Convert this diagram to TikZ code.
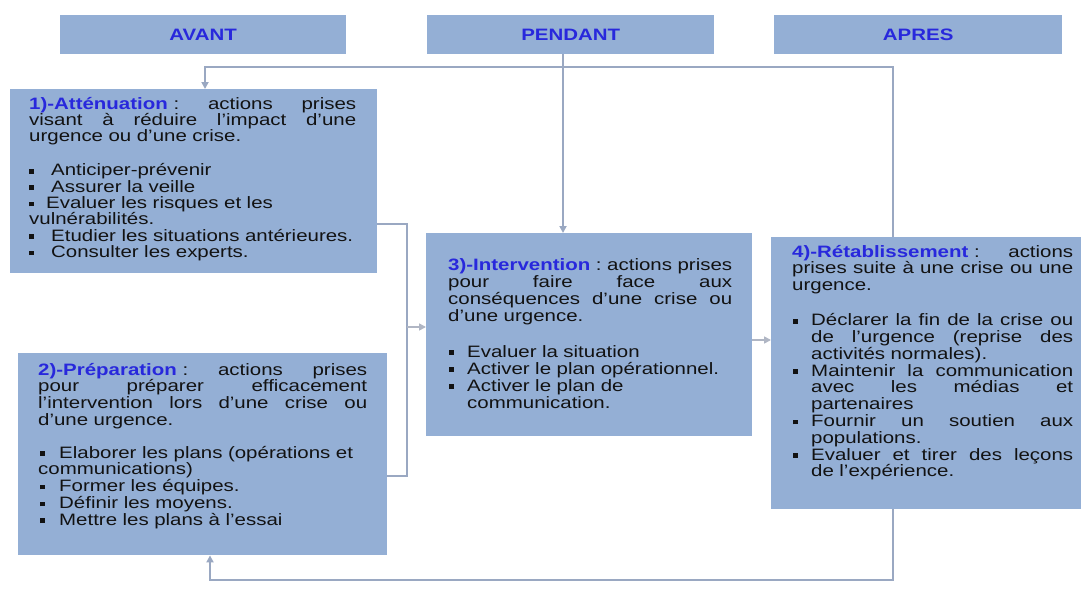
\documentclass[tikz,border=0pt]{standalone}
\usepackage{fontspec}
\setmainfont{Liberation Sans}[FakeStretch=1.24]
\usetikzlibrary{arrows.meta}

\definecolor{boxfill}{HTML}{94AFD5}
\definecolor{linkcol}{HTML}{9AA8C2}
\definecolor{tipcol}{HTML}{B0B6C4}
\definecolor{titleblue}{HTML}{2828DC}
\definecolor{ink}{HTML}{121212}

% stretchable interword space for justified lines
\newcommand\spreadspace{\spaceskip=\fontdimen2\font plus 1fil minus 0.1em\relax\xspaceskip=\spaceskip}
% one justified line spread over the full text width
\newcommand\jline[1]{\makebox[\linewidth][s]{\spreadspace #1}}
% a justified line of a given width (hanging bullet text)
\newcommand\jwide[2]{\makebox[#1][s]{\spreadspace #2}}
% small square bullet
\newcommand\sqb{\rule[2.2pt]{4.6pt}{4.6pt}}
% blue bold heading of a phase, followed by its colon
\newcommand\ttl[1]{\textbf{\textcolor{titleblue}{#1}}\nobreak\hspace{5.7pt}:}

\begin{document}
\begin{tikzpicture}[x=1pt,y=-1pt,
  panel/.style={fill=boxfill, draw=none, inner sep=0pt, anchor=north west},
  phase/.style={panel, minimum height=39pt, font=\fontsize{16.5}{18}\selectfont\bfseries, text=titleblue, anchor=north west},
  body/.style={anchor=base west, inner sep=0pt, align=left, text=ink},
  link/.style={draw=linkcol, line width=2pt},
  into/.style={link, -{Triangle[length=7pt,width=7pt]}},
  feed/.style={draw=tipcol, line width=1.6pt, -{Triangle[length=7pt,width=7pt]}}]

\useasboundingbox (0,0) rectangle (1081,594);
\fill[white] (0,0) rectangle (1081,594);

% phase headers
\node[phase, minimum width=286pt] (h1) at (60,15) {AVANT};
\node[phase, minimum width=287pt] (h2) at (427,15) {PENDANT};
\node[phase, minimum width=288pt] (h3) at (774,15) {APRES};

% the four boxes
\node[panel, minimum width=367pt, minimum height=184pt] (b1) at (10,89) {};
\node[panel, minimum width=369pt, minimum height=202pt] (b2) at (18,353) {};
\node[panel, minimum width=326pt, minimum height=203pt] (b3) at (426,233) {};
\node[panel, minimum width=310pt, minimum height=272pt] (b4) at (771,237) {};

% connectors
\coordinate (topR) at (893,67);
\coordinate (topL) at (205,67);
\coordinate (pd) at (563,0);
\coordinate (botR) at (893,580);
\coordinate (botL) at (210,580);
\coordinate (brT) at (407,224);
\coordinate (brB) at (407,476);
\coordinate (brM) at (407,327);
\coordinate (mid34) at (760,340);

\draw[into] (b4.north west -| topR) -- (topR) -- (topL) -- (topL |- b1.north);
\draw[into] (h2.south -| pd) -- (b3.north -| pd);
\draw[into] (b4.south west -| botR) -- (botR) -- (botL) -- (botL |- b2.south);
\draw[link] (b1.east |- brT) -- (brT) -- (brB) -- (b2.east |- brB);
\draw[feed] (brM) -- (b3.west |- brM);
\draw[feed] (b3.east |- mid34) -- (b4.west |- mid34);

% texts
\node[body, text width=327pt, font=\fontsize{16.5}{16.3}\selectfont] (t1) at (29,109) {%
\jline{\ttl{1)-Atténuation} actions prises}\\
\jline{visant à réduire l’impact d’une}\\
urgence ou d’une crise.\\[18pt]
\makebox[22pt][l]{\sqb}Anticiper-prévenir\\
\makebox[22pt][l]{\sqb}Assurer la veille\\
\makebox[17pt][l]{\sqb}Evaluer les risques et les\\
vulnérabilités.\\
\makebox[22pt][l]{\sqb}Etudier les situations antérieures.\\
\makebox[22pt][l]{\sqb}Consulter les experts.};

\node[body, text width=329pt, font=\fontsize{16.5}{16.8}\selectfont] (t2) at (38,375) {%
\jline{\ttl{2)-Préparation} actions prises}\\
\jline{pour préparer efficacement}\\
\jline{l’intervention lors d’une crise ou}\\
d’une urgence.\\[15.8pt]
\hspace*{2pt}\makebox[19pt][l]{\sqb}Elaborer les plans (opérations et\\
communications)\\
\hspace*{2pt}\makebox[19pt][l]{\sqb}Former les équipes.\\
\hspace*{2pt}\makebox[19pt][l]{\sqb}Définir les moyens.\\
\hspace*{2pt}\makebox[19pt][l]{\sqb}Mettre les plans à l’essai};

\node[body, text width=284pt, font=\fontsize{16.5}{17}\selectfont] (t3) at (448,270) {%
\jline{\ttl{3)-Intervention} actions prises}\\
\jline{pour faire face aux}\\
\jline{conséquences d’une crise ou}\\
d’une urgence.\\[19pt]
\hspace*{1pt}\makebox[18pt][l]{\sqb}Evaluer la situation\\
\hspace*{1pt}\makebox[18pt][l]{\sqb}Activer le plan opérationnel.\\
\hspace*{1pt}\makebox[18pt][l]{\sqb}Activer le plan de\\
\hspace*{19pt}communication.};

\node[body, text width=281pt, font=\fontsize{16.5}{16.8}\selectfont] (t4) at (792,257) {%
\jline{\ttl{4)-Rétablissement} actions}\\
\jline{prises suite à une crise ou une}\\
urgence.\\[18.3pt]
\hspace*{1pt}\makebox[18pt][l]{\sqb}\jwide{262pt}{Déclarer la fin de la crise ou}\\
\hspace*{19pt}\jwide{262pt}{de l’urgence (reprise des}\\
\hspace*{19pt}activités normales).\\
\hspace*{1pt}\makebox[18pt][l]{\sqb}\jwide{262pt}{Maintenir la communication}\\
\hspace*{19pt}\jwide{262pt}{avec les médias et}\\
\hspace*{19pt}partenaires\\
\hspace*{1pt}\makebox[18pt][l]{\sqb}\jwide{262pt}{Fournir un soutien aux}\\
\hspace*{19pt}populations.\\
\hspace*{1pt}\makebox[18pt][l]{\sqb}\jwide{262pt}{Evaluer et tirer des leçons}\\
\hspace*{19pt}de l’expérience.};

\end{tikzpicture}
\end{document}
